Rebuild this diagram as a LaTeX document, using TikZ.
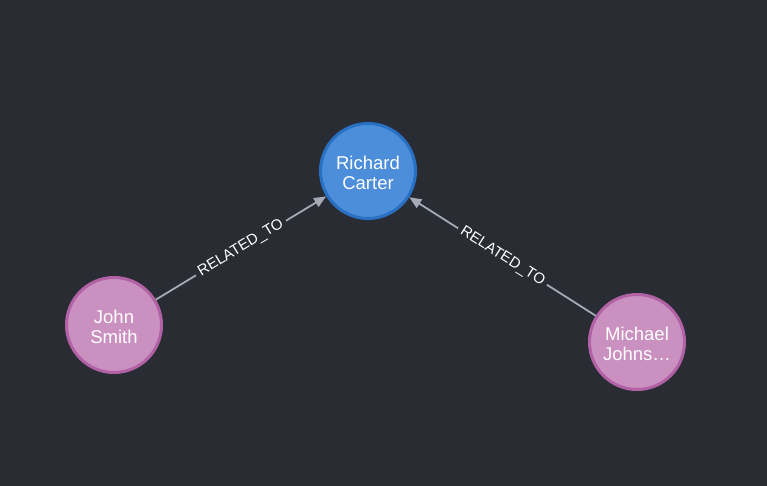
\documentclass[tikz,border=0pt]{standalone}
\usepackage{fontspec}
\setmainfont{Liberation Sans}
\usetikzlibrary{arrows.meta}
\definecolor{bgc}{RGB}{41,44,51}
\definecolor{bluefill}{RGB}{76,142,218}
\definecolor{blueline}{RGB}{40,112,194}
\definecolor{pinkfill}{RGB}{201,144,192}
\definecolor{pinkline}{RGB}{178,97,165}
\definecolor{edgec}{RGB}{165,171,182}
\tikzset{
  person/.style={circle, minimum size=95pt, inner sep=0pt, line width=3pt, align=center,
    text=white, font=\fontsize{18.5}{19.5}\selectfont},
  bluenode/.style={person, fill=bluefill, draw=blueline},
  pinknode/.style={person, fill=pinkfill, draw=pinkline},
  rel/.style={draw=edgec, line width=1.8pt, -{Triangle[length=12pt,width=10pt]}},
  rellabel/.style={sloped, fill=bgc, inner sep=4pt, text=white, font=\fontsize{15}{17}\selectfont}
}
\begin{document}
\begin{tikzpicture}[x=1pt, y=-1pt]
\fill[bgc] (0,0) rectangle (767,486);
\useasboundingbox (0,0) rectangle (767,486);
\node[bluenode] (rc) at (368,171) {\rule{0pt}{17pt}Richard\\Carter};
\node[pinknode] (js) at (114,325) {\rule{0pt}{17pt}John\\Smith};
\node[pinknode] (mj) at (637,342) {\rule{0pt}{17pt}Michael\\Johns\ldots};
\draw[rel] (js) -- node[rellabel] {RELATED\_TO} (rc);
\draw[rel] (mj) -- node[rellabel] {RELATED\_TO} (rc);
\end{tikzpicture}
\end{document}
